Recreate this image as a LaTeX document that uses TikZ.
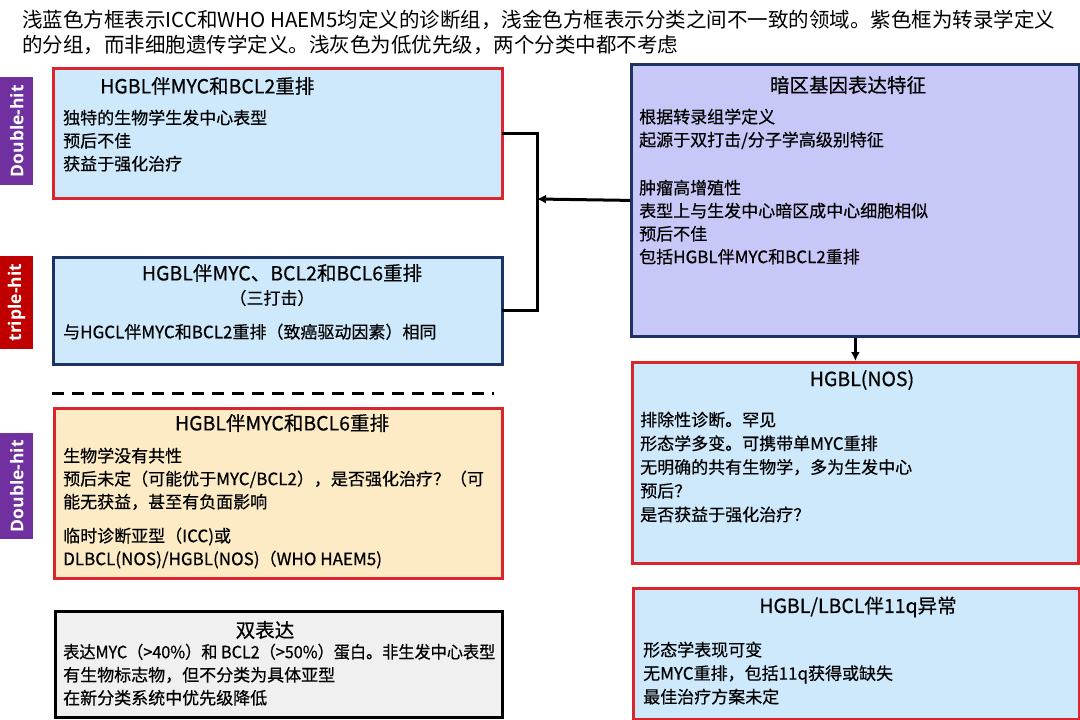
\documentclass[tikz,border=0pt]{standalone}
\usepackage{fontspec}
\setmainfont{Noto Sans CJK SC}
\newfontfamily\boxfont{Noto Sans CJK SC}[FakeBold=0.5]
\newfontfamily\tagfont{Open Sans}
\usetikzlibrary{arrows.meta}
\definecolor{boxblue}{RGB}{205,233,251}
\definecolor{boxred}{RGB}{218,37,45}
\definecolor{navy}{RGB}{31,50,100}
\definecolor{lav}{RGB}{200,200,248}
\definecolor{gold}{RGB}{253,235,197}
\definecolor{lgray}{RGB}{240,240,240}
\definecolor{tagpurple}{RGB}{112,48,160}
\definecolor{tagred}{RGB}{192,0,0}
\begin{document}
\begin{tikzpicture}[x=1pt,y=-1pt,
  box/.style={draw, line width=2.8pt, inner sep=0pt, anchor=north west},
  tagbox/.style={inner sep=0pt, anchor=north west, minimum width=33pt},
  tagtext/.style={rotate=90, text=white, inner sep=0pt, font=\tagfont\bfseries\fontsize{17.5}{19}\selectfont},
  title/.style={inner sep=0pt, font=\boxfont\fontsize{19.5}{23}\selectfont},
  body/.style={anchor=north west, inner sep=0pt, align=left, font=\boxfont\fontsize{17}{23}\selectfont},
  hdr/.style={anchor=west, inner sep=0pt, font=\fontsize{20.5}{26}\selectfont},
  conn/.style={line width=3pt, draw=black},
  tip/.style={-{Latex[length=9pt,width=9pt]}}
]
\useasboundingbox (0,0) rectangle (1080,720);
\fill[white] (0,0) rectangle (1080,720);

% header
\node[hdr] (hd1) at (22,20) {浅蓝色方框表示ICC和WHO HAEM5均定义的诊断组，浅金色方框表示分类之间不一致的领域。紫色框为转录学定义};
\node[hdr] (hd2) at (22,45) {的分组，而非细胞遗传学定义。浅灰色为低优先级，两个分类中都不考虑};

% tags
\node[tagbox, fill=tagpurple, minimum height=108pt] (t1) at (0,77) {};
\node[tagtext] (t1l) at (t1.center) {Double-hit};
\node[tagbox, fill=tagred, minimum height=93pt] (t2) at (0,256) {};
\node[tagtext] (t2l) at (t2.center) {triple-hit};
\node[tagbox, fill=tagpurple, minimum height=106pt] (t3) at (0,433) {};
\node[tagtext] (t3l) at (t3.center) {Double-hit};

% left boxes
\node[box, fill=boxblue, draw=boxred, minimum width=449pt, minimum height=130pt] (b1) at (52,67) {};
\node[title, anchor=west] (b1t) at (100,86) {HGBL伴MYC和BCL2重排};
\node[body] (b1b) at (63,109.5) {独特的生物学生发中心表型\\预后不佳\\获益于强化治疗};

\node[box, fill=boxblue, draw=navy, minimum width=449pt, minimum height=107pt] (b2) at (52,256) {};
\node[title] (b2t) at (282,273) {HGBL伴MYC、BCL2和BCL6重排};
\node[title, font=\boxfont\fontsize{17}{23}\selectfont] (b2s) at (272,298) {（三打击）};
\node[body] (b2b) at (63,323.5) {与HGCL伴MYC和BCL2重排（致癌驱动因素）相同};

\coordinate (dl) at (52,393);
\coordinate (dr) at (494,393);
\draw[line width=3pt, dash pattern=on 12pt off 8pt] (dl) -- (dr);

\node[box, fill=gold, draw=boxred, minimum width=448pt, minimum height=170pt] (b3) at (53,407) {};
\node[title] (b3t) at (282,423) {HGBL伴MYC和BCL6重排};
\node[body] (b3b) at (63,447.5) {生物学没有共性\\预后未定（可能优于MYC/BCL2），是否强化治疗？（可\\能无获益，甚至有负面影响\\[11pt]临时诊断亚型（ICC)或\\DLBCL(NOS)/HGBL(NOS)（WHO HAEM5)};

\node[box, fill=lgray, draw=black, minimum width=447pt, minimum height=106pt] (b4) at (54,610) {};
\node[title] (b4t) at (265,630) {双表达};
\node[body] (b4b) at (63,643.5) {\scalebox{0.95}[1]{表达MYC（>40\%）和 BCL2（>50\%）蛋白。非生发中心表型}\\有生物标志物，但不分类为具体亚型\\在新分类系统中优先级降低};

% right boxes
\node[box, fill=lav, draw=navy, minimum width=448pt, minimum height=272pt] (bp) at (630,63) {};
\node[title] (bpt) at (848,85) {暗区基因表达特征};
\node[body] (bpb) at (639,108.5) {根据转录组学定义\\起源于双打击/分子学高级别特征\\[25pt]肿瘤高增殖性\\表型上与生发中心暗区成中心细胞相似\\预后不佳\\包括HGBL伴MYC和BCL2重排};

\node[box, fill=boxblue, draw=boxred, minimum width=446pt, minimum height=201pt] (bn) at (631,361) {};
\node[title] (bnt) at (862,380) {HGBL(NOS)};
\node[body, font=\boxfont\fontsize{17}{23.7}\selectfont] (bnb) at (640,411.5) {排除性诊断。罕见\\形态学多变。可携带单MYC重排\\无明确的共有生物学，多为生发中心\\预后？\\是否获益于强化治疗？};

\node[box, fill=boxblue, draw=boxred, minimum width=446pt, minimum height=131pt] (bl) at (632,587) {};
\node[title] (blt) at (858,607) {HGBL/LBCL伴11q异常};
\node[body, font=\boxfont\fontsize{17}{23.5}\selectfont] (blb) at (643,641.5) {形态学表现可变\\无MYC重排，包括11q获得或缺失\\最佳治疗方案未定};

% connectors
\coordinate (bus) at (537,199);
\draw[conn, line cap=rect] (b1.east) -- (b1.east -| bus) -- (b2.east -| bus) -- (b2.east);
\draw[conn, tip] (bp.west) -- (bus);
\draw[conn, tip] (bp.south) -- (bn.north);
\end{tikzpicture}
\end{document}
